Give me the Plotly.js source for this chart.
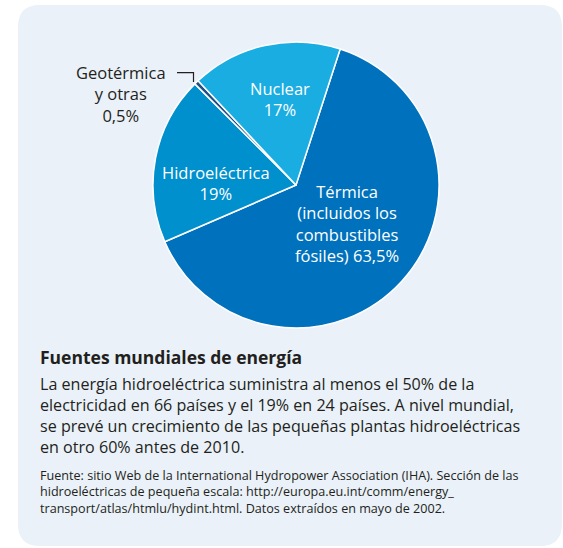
<!DOCTYPE html>
<html>
<head>
<meta charset="utf-8">
<script src="https://cdn.plot.ly/plotly-3.0.1.min.js"></script>
<style>html,body{margin:0;padding:0;background:#fff;}#chart{width:563px;height:548px;}</style>
</head>
<body>
<div id="chart"></div>
<script>
// ---- data ----
var categories = ['Térmica (incluidos los combustibles fósiles)', 'Hidroeléctrica', 'Geotérmica y otras', 'Nuclear'];
var values = [63.5, 19, 0.5, 17];
var labelLines = [
  ['Térmica', '(incluidos los', 'combustibles', 'fósiles)'],
  ['Hidroeléctrica'],
  ['Geotérmica', 'y otras'],
  ['Nuclear']
];
var sliceColors = ['#0071bc', '#0090cd', '#1f4f86', '#19ade2'];
var titleText = 'Fuentes mundiales de energía';
var bodyLines = [
  'La energía hidroeléctrica suministra al menos el 50% de la',
  'electricidad en 66 países y el 19% en 24 países. A nivel mundial,',
  'se prevé un crecimiento de las pequeñas plantas hidroeléctricas',
  'en otro 60% antes de 2010.'
];
var sourceLines = [
  'Fuente: sitio Web de la International Hydropower Association (IHA). Sección de las',
  'hidroeléctricas de pequeña escala: http://europa.eu.int/comm/energy_',
  'transport/atlas/htmlu/hydint.html. Datos extraídos en mayo de 2002.'
];

// ---- helpers ----
var W = 563, H = 548;
function px(x){ return x / W; }
function py(y){ return 1 - y / H; }
function pct(v){ return String(v).replace('.', ',') + '%'; }
function lastLine(i){
  var l = labelLines[i].slice();
  if (i === 0) { l[l.length-1] = l[l.length-1] + ' ' + pct(values[i]); }
  else { l.push(pct(values[i])); }
  return l.join('<br>');
}

var FONT = '"Open Sans", sans-serif';
var cx = 296, cy = 185, r = 143;

// card path (rounded rect)
function cardPath(x0, y0, x1, y1, rad){
  var p = [];
  p.push('M', px(x0+rad), py(y0));
  p.push('L', px(x1-rad), py(y0));
  p.push('Q', px(x1), py(y0), px(x1), py(y0+rad));
  p.push('L', px(x1), py(y1-rad));
  p.push('Q', px(x1), py(y1), px(x1-rad), py(y1));
  p.push('L', px(x0+rad), py(y1));
  p.push('Q', px(x0), py(y1), px(x0), py(y1-rad));
  p.push('L', px(x0), py(y0+rad));
  p.push('Q', px(x0), py(y0), px(x0+rad), py(y0));
  p.push('Z');
  return p.join(' ').replace(/ (-?[\d.]+) (-?[\d.]+)/g, ' $1,$2');
}

var trace = {
  type: 'pie',
  labels: categories,
  values: values,
  sort: false,
  direction: 'clockwise',
  rotation: 18,
  marker: {colors: sliceColors, line: {color: '#ffffff', width: 1.5}},
  textinfo: 'none',
  hoverinfo: 'label+percent',
  showlegend: false,
  domain: {x: [px(cx - r), px(cx + r)], y: [py(cy + r), py(cy - r)]}
};

var annotations = [
  {x: px(347), y: py(224), text: lastLine(0), font: {size: 16.5, color: '#ffffff'}},
  {x: px(216), y: py(183), text: lastLine(1), font: {size: 16.5, color: '#ffffff'}},
  {x: px(121), y: py(93.5), text: lastLine(2), font: {size: 16.5, color: '#231f20'}},
  {x: px(280), y: py(98.5), text: lastLine(3), font: {size: 16.5, color: '#ffffff'}},
  {x: px(38), y: py(357), xanchor: 'left', text: '<b>' + titleText + '</b>', font: {size: 17.5, color: '#231f20'}},
  {x: px(38), y: py(415), xanchor: 'left', align: 'left', text: bodyLines.join('<br>'), font: {size: 16.1, color: '#231f20'}},
  {x: px(38), y: py(492), xanchor: 'left', align: 'left', text: sourceLines.join('<br>'), font: {size: 12.6, color: '#231f20'}}
].map(function(a){
  return Object.assign({xref: 'paper', yref: 'paper', showarrow: false, xanchor: 'center', yanchor: 'middle', align: 'center', font: {}}, a, {font: Object.assign({family: FONT}, a.font)});
});

var layout = {
  width: W, height: H,
  margin: {l: 0, r: 0, t: 0, b: 0},
  paper_bgcolor: '#ffffff',
  font: {family: FONT},
  shapes: [
    {type: 'path', xref: 'paper', yref: 'paper', path: cardPath(18, 5, 562, 546, 22), fillcolor: '#eaf1f8', line: {width: 0}, layer: 'below'},
    {type: 'path', xref: 'paper', yref: 'paper', path: 'M ' + px(177) + ',' + py(72.7) + ' L ' + px(193.5) + ',' + py(72.7) + ' L ' + px(193.5) + ',' + py(82), line: {color: '#231f20', width: 1.2}, layer: 'above'}
  ],
  annotations: annotations
};

Plotly.newPlot('chart', [trace], layout, {displayModeBar: false, staticPlot: true});
</script>
</body>
</html>
